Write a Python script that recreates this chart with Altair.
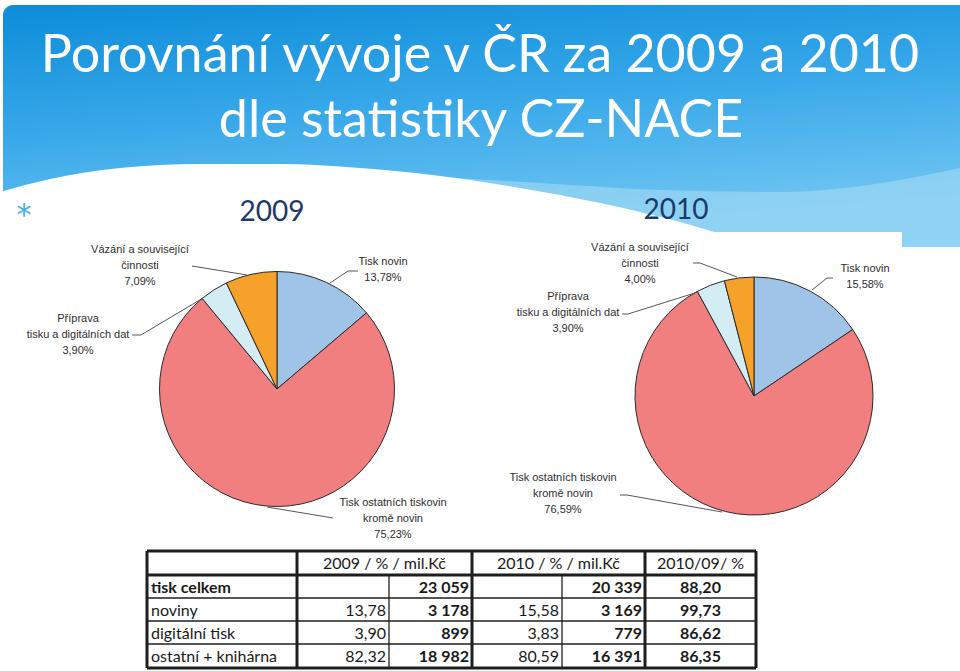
import altair as alt
import pandas as pd

W, H = 960, 671

# ---------------- data ----------------
title_lines = ["Porovnání vývoje v ČR za 2009 a 2010", "dle statistiky CZ-NACE"]
years = ["2009", "2010"]
categories = ["Tisk novin", "Tisk ostatních tiskovin kromě novin",
              "Příprava tisku a digitálních dat", "Vázání a související činnosti"]
label_text = ["Tisk novin", "Tisk ostatních tiskovin\nkromě novin",
              "Příprava\ntisku a digitálních dat", "Vázání a související\nčinnosti"]
share_2009 = [13.78, 75.23, 3.90, 7.09]
share_2010 = [15.58, 76.59, 3.90, 4.00]
pie_colors = ["#9fc4e8", "#f27f7f", "#d4ecf4", "#f6a12a"]

row_labels = ["tisk celkem", "noviny", "digitální tisk", "ostatní + knihárna"]
header_labels = ["2009 / % / mil.Kč", "2010 / % /  mil.Kč", "2010/09/ %"]
pct_2009 = [None, 13.78, 3.90, 82.32]
mil_2009 = [23059, 3178, 899, 18982]
pct_2010 = [None, 15.58, 3.83, 80.59]
mil_2010 = [20339, 3169, 779, 16391]
ratio_10_09 = [88.20, 99.73, 86.62, 86.35]

# ---------------- layout (pixels) ----------------
pie_center = {"2009": (277, 389), "2010": (754, 396)}
pie_radius = {"2009": 117.5, "2010": 119}
year_pos = {"2009": (272, 221), "2010": (676, 219)}
label_pos = {  # centre of first text line
    "2009": [(383, 262), (393, 503), (78, 319), (140, 250)],
    "2010": [(865, 269), (563, 478), (568, 297), (640, 248)],
}
leader_paths = {
    "2009": [[(358, 271), (348, 271), (330, 283)],
             [(333, 518), (267, 507)],
             [(132, 335), (141, 335), (203, 298)],
             [(192, 266), (247, 275)]],
    "2010": [[(833, 278), (827, 278), (812, 290)],
             [(620, 495), (627, 495), (722, 512)],
             [(622, 314), (628, 314), (698, 292)],
             [(693, 263), (700, 263), (737, 277)]],
}
col_edges = [147, 297, 389, 472, 562, 645, 756]
row_edges = [551, 575, 598, 621, 644, 668]
bg_bottom = 247
wave_x = [0, 50, 120, 200, 280, 360, 440, 520, 600, 680, 740]
wave_y = [192, 179, 168, 164, 164, 168, 176, 188, 203, 222, 240]
band_x = [300, 420, 540, 660, 780, 900, 960]
band_y = [172, 176, 183, 190, 192, 180, 168]

xs = alt.Scale(domain=[0, W], range=[0, W], nice=False, zero=False)
ys = alt.Scale(domain=[0, H], range=[0, H], nice=False, zero=False)


def X(f):
    return alt.X(f, type="quantitative", scale=xs, axis=None)


def Y(f):
    return alt.Y(f, type="quantitative", scale=ys, axis=None)


def pct(v):
    return f"{v:.2f}".replace(".", ",")


def thousands(v):
    return f"{v:,}".replace(",", " ")


one = pd.DataFrame({"k": [0]})

# ---------------- background ----------------
header_bg = alt.Chart(one).mark_rect(
    cornerRadiusTopLeft=10,
    color=alt.LinearGradient(
        gradient="linear", x1=0, y1=0, x2=0.3, y2=1,
        stops=[alt.GradientStop(color="#0c8cd9", offset=0),
               alt.GradientStop(color="#38a8e9", offset=0.5),
               alt.GradientStop(color="#70c5f2", offset=1)]),
).encode(x=alt.value(3), x2=alt.value(W), y=alt.value(5), y2=alt.value(bg_bottom))

band = alt.Chart(pd.DataFrame({"x": band_x, "y": band_y, "b": [bg_bottom] * len(band_x)})).mark_area(
    color="#a4dbf3", opacity=0.6, interpolate="monotone"
).encode(x=X("x"), y=Y("y"), y2="b:Q")

wave = alt.Chart(pd.DataFrame({"x": wave_x, "y": wave_y, "b": [bg_bottom] * len(wave_x)})).mark_area(
    color="white", interpolate="monotone"
).encode(x=X("x"), y=Y("y"), y2="b:Q")

white_block = alt.Chart(one).mark_rect(color="white").encode(
    x=alt.value(0), x2=alt.value(902), y=alt.value(232), y2=alt.value(H))

# ---------------- titles ----------------
title_df = pd.DataFrame({"t": title_lines, "x": [480, 481], "y": [72, 137]})
title = alt.Chart(title_df).mark_text(
    font="Lato", fontSize=52, color="white", align="center", baseline="alphabetic"
).encode(x=X("x"), y=Y("y"), text="t:N")

year_df = pd.DataFrame({"t": years, "x": [year_pos[y][0] for y in years],
                        "y": [year_pos[y][1] for y in years]})
year_text = alt.Chart(year_df).mark_text(
    font="Lato", fontSize=28, color="#1b3a6b", align="center", baseline="alphabetic"
).encode(x=X("x"), y=Y("y"), text="t:N")

bullet = alt.Chart(pd.DataFrame({"t": ["*"], "x": [24], "y": [216]})).mark_text(
    font="DejaVu Sans", fontSize=30, color="#3fb3e6", align="center", baseline="middle"
).encode(x=X("x"), y=Y("y"), text="t:N")

# ---------------- pies ----------------
pie_layers = []
label_rows = []
leader_rows = []
for yr, shares in (("2009", share_2009), ("2010", share_2010)):
    df = pd.DataFrame({"cat": categories, "share": shares, "idx": range(len(categories))})
    cx, cy = pie_center[yr]
    pie_layers.append(
        alt.Chart(df).mark_arc(outerRadius=pie_radius[yr], stroke="#2a2a2a", strokeWidth=1)
        .encode(theta=alt.Theta("share:Q", stack=True),
                color=alt.Color("cat:N", scale=alt.Scale(domain=categories, range=pie_colors),
                                legend=None),
                order=alt.Order("idx:Q"),
                x=alt.value(cx), y=alt.value(cy))
    )
    for i, (lab, v) in enumerate(zip(label_text, shares)):
        lx, ly = label_pos[yr][i]
        label_rows.append({"t": f"{lab}\n{pct(v)}%", "x": lx, "y": ly})
        for j, (px, py) in enumerate(leader_paths[yr][i]):
            leader_rows.append({"id": f"{yr}-{i}", "o": j, "x": px, "y": py})

pie_labels = alt.Chart(pd.DataFrame(label_rows)).mark_text(
    font="Liberation Sans", fontSize=11, color="#2e2e2e", align="center",
    baseline="middle", lineBreak="\n", lineHeight=16
).encode(x=X("x"), y=Y("y"), text="t:N")

leaders = alt.Chart(pd.DataFrame(leader_rows)).mark_line(
    color="#555555", strokeWidth=1
).encode(x=X("x"), y=Y("y"), detail="id:N", order="o:Q")

# ---------------- table ----------------
rule_rows = []
for k, ry in enumerate(row_edges):
    thick = k in (0, 1, len(row_edges) - 1)
    rule_rows.append({"x": col_edges[0], "x2": col_edges[-1], "y": ry, "y2": ry,
                      "w": 3 if thick else 1.3})
for k, cxe in enumerate(col_edges):
    thin = k in (2, 4)
    rule_rows.append({"x": cxe, "x2": cxe, "y": row_edges[1] if thin else row_edges[0],
                      "y2": row_edges[-1], "w": 1.3 if thin else 3})
rules = alt.Chart(pd.DataFrame(rule_rows)).mark_rule(color="#1e1e1e").encode(
    x=X("x"), x2="x2:Q", y=Y("y"), y2="y2:Q",
    strokeWidth=alt.StrokeWidth("w:Q", scale=None))

row_mid = [(row_edges[i] + row_edges[i + 1]) / 2 for i in range(len(row_edges) - 1)]

cells_left_b, cells_left, cells_right, cells_right_b, cells_center, cells_center_b = [], [], [], [], [], []
for k, h in enumerate(header_labels):
    a, b = [(1, 3), (3, 5), (5, 6)][k]
    cells_center.append({"t": h, "x": (col_edges[a] + col_edges[b]) / 2, "y": row_mid[0] + 1})
for r in range(len(row_labels)):
    y = row_mid[r + 1] + 1
    (cells_left_b if r == 0 else cells_left).append({"t": row_labels[r], "x": col_edges[0] + 4, "y": y})
    if pct_2009[r] is not None:
        cells_right.append({"t": pct(pct_2009[r]), "x": col_edges[2] - 3, "y": y})
    if pct_2010[r] is not None:
        cells_right.append({"t": pct(pct_2010[r]), "x": col_edges[4] - 3, "y": y})
    cells_right_b.append({"t": thousands(mil_2009[r]), "x": col_edges[3] - 3, "y": y})
    cells_right_b.append({"t": thousands(mil_2010[r]), "x": col_edges[5] - 3, "y": y})
    cells_center_b.append({"t": pct(ratio_10_09[r]), "x": (col_edges[5] + col_edges[6]) / 2, "y": y})


def cell_layer(rows, align, weight):
    return alt.Chart(pd.DataFrame(rows)).mark_text(
        font="Lato", fontSize=16, color="#1a1a1a", align=align, baseline="middle",
        fontWeight=weight
    ).encode(x=X("x"), y=Y("y"), text="t:N")


table_text = [
    cell_layer(cells_left_b, "left", "bold"),
    cell_layer(cells_left, "left", "normal"),
    cell_layer(cells_right, "right", "normal"),
    cell_layer(cells_right_b, "right", "bold"),
    cell_layer(cells_center, "center", "normal"),
    cell_layer(cells_center_b, "center", "bold"),
]

chart = alt.layer(
    header_bg, band, wave, white_block, title, year_text, bullet,
    *pie_layers, leaders, pie_labels, rules, *table_text
).resolve_scale(theta="independent", color="shared").properties(
    width=W, height=H, padding=0, autosize=alt.AutoSizeParams(type="none"),
    background="white"
).configure_view(stroke=None)

chart.save("out.html", embed_options={"renderer": "svg", "actions": False})
